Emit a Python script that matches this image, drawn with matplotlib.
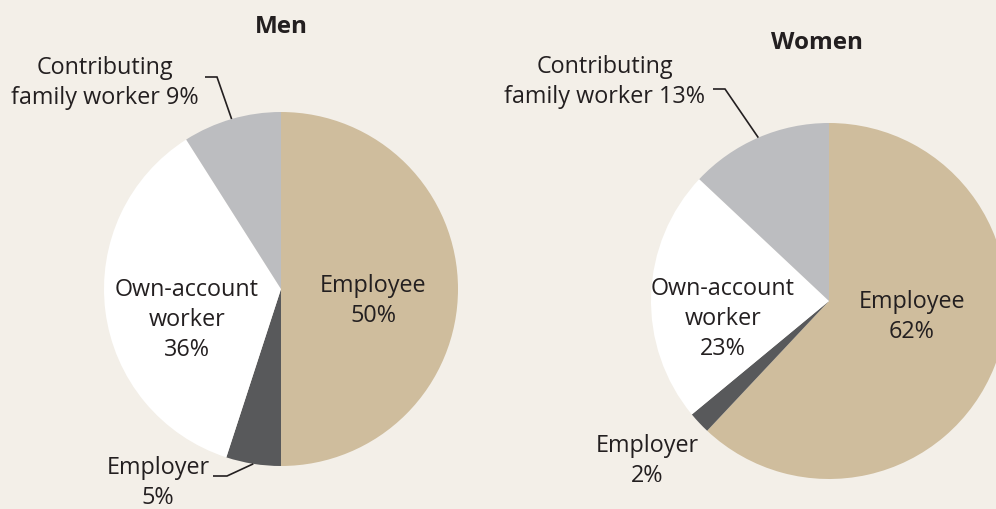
import numpy as np
import matplotlib
matplotlib.use("Agg")
from matplotlib import pyplot as plt

# data
categories = ["Employee", "Employer", "Own-account worker", "Contributing family worker"]
men_vals = [50, 5, 36, 9]
women_vals = [62, 2, 23, 13]
titles = ["Men", "Women"]

colors = ["#cfbd9d", "#58595b", "#ffffff", "#bcbdc0"]
bg = "#f3efe8"
txt = "#231f20"

plt.rcParams['font.family'] = ['Open Sans', 'DejaVu Sans']

fig = plt.figure(figsize=(9.96, 5.10), dpi=100, facecolor=bg)
ax = fig.add_axes([0, 0, 1, 1])
ax.set_facecolor(bg)

FS = 16.8

def edge_point(w, center, r):
	# point on the rim at the middle of a wedge
	ang = np.deg2rad((w.theta1 + w.theta2) / 2)
	return center[0] + r * np.cos(ang), center[1] + r * np.sin(ang)

def draw_pie(vals, center, r):
	wedges, _ = ax.pie(vals, colors=colors, startangle=90, counterclock=False,
		center=center, radius=r, wedgeprops=dict(linewidth=0))
	return wedges

# y axis goes upward, so pixel y is converted as 510 - y
men_c = (281, 510 - 290)
wom_c = (829, 510 - 302)
R_men = 177
R_wom = 178

mw = draw_pie(men_vals, men_c, R_men)
ww = draw_pie(women_vals, wom_c, R_wom)

ax.set_xlim(0, 996)
ax.set_ylim(0, 510)
ax.set_aspect("equal")
ax.axis("off")

def label(x, y, s, **kw):
	ax.text(x, 510 - y, s, ha="center", va="center", fontsize=FS, color=txt,
		linespacing=1.32, **kw)

def leader(x0, y0, x1, w, center, r):
	px, py = edge_point(w, center, r)
	ax.plot([x0, x1, px], [510 - y0, 510 - y0, py], color=txt, lw=1.2,
		solid_capstyle="butt", solid_joinstyle="miter")

# titles
ax.text(281, 510 - 27, titles[0], ha="center", va="center", fontsize=17.5, fontweight="bold", color=txt)
ax.text(817, 510 - 43, titles[1], ha="center", va="center", fontsize=17.5, fontweight="bold", color=txt)

# men labels
label(105, 83, "Contributing\nfamily worker %d%%" % men_vals[3])
leader(205, 78, 217, mw[3], men_c, R_men)
label(187, 320, "Own-account\nworker\n%d%%" % men_vals[2])
label(373, 301, "Employee\n%d%%" % men_vals[0])
label(158, 483, "Employer\n%d%%" % men_vals[1])
leader(213, 477, 227, mw[1], men_c, R_men)

# women labels
label(605, 82, "Contributing\nfamily worker %d%%" % women_vals[3])
leader(713, 90, 725, ww[3], wom_c, R_wom)
label(723, 319, "Own-account\nworker\n%d%%" % women_vals[2])
label(912, 317, "Employee\n%d%%" % women_vals[0])
label(647, 461, "Employer\n%d%%" % women_vals[1])

fig.savefig("out.png", dpi=100, facecolor=bg)
